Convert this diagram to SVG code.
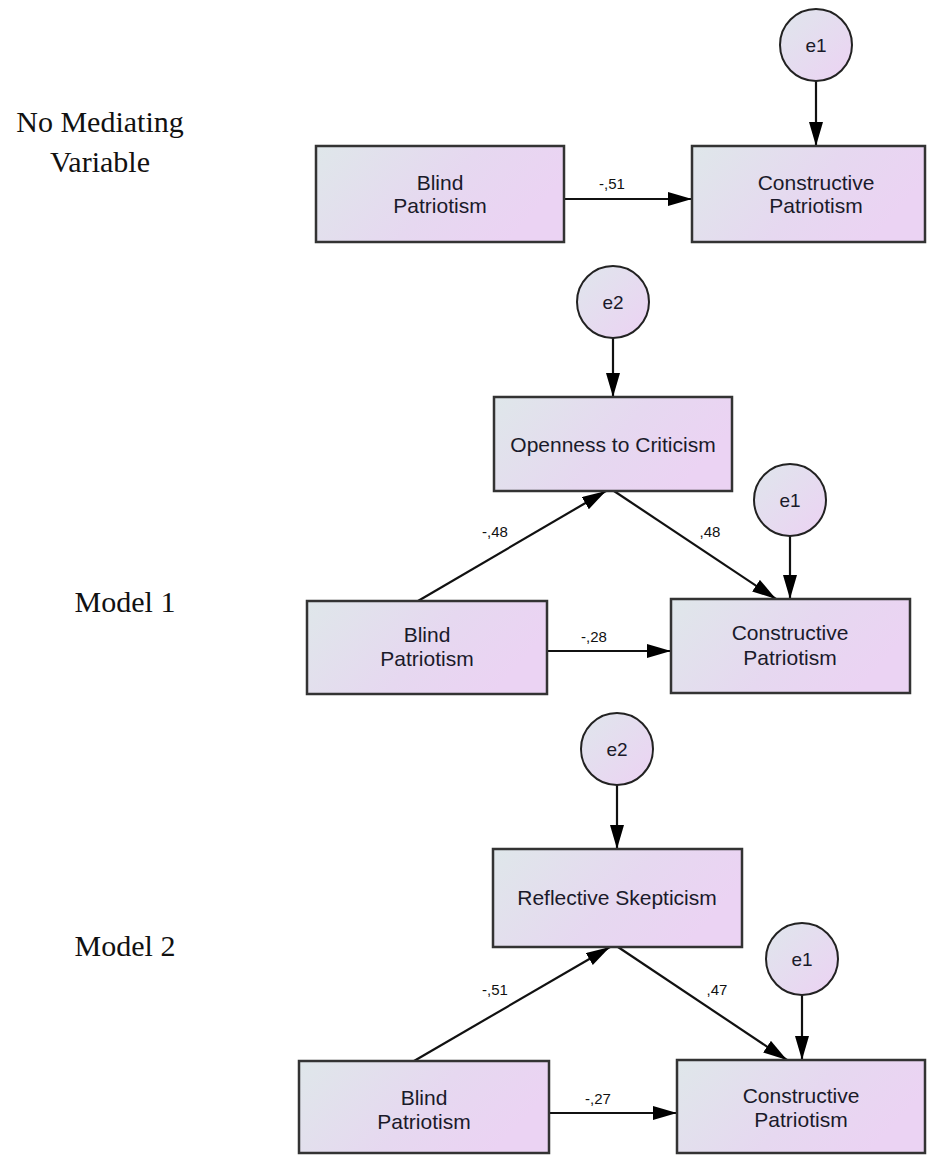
<svg xmlns="http://www.w3.org/2000/svg" width="927" height="1155" viewBox="0 0 927 1155">
<defs>
<linearGradient id="gBox" x1="0" y1="0" x2="1" y2="0.35">
<stop offset="0" stop-color="#dfe7ea"/>
<stop offset="0.6" stop-color="#e6d8f0"/>
<stop offset="1" stop-color="#ebd3f3"/>
</linearGradient>
<linearGradient id="gCirc" x1="0" y1="0" x2="1" y2="1">
<stop offset="0" stop-color="#dfe6ec"/>
<stop offset="1" stop-color="#ecd2f3"/>
</linearGradient>
<marker id="arr" markerUnits="userSpaceOnUse" markerWidth="26" markerHeight="16" refX="24" refY="7" orient="auto">
<path d="M0,0 L24,7 L0,14 z" fill="#000"/>
</marker>
</defs>
<style>
.box{fill:url(#gBox);stroke:#333;stroke-width:2.5}
.circ{fill:url(#gCirc);stroke:#222;stroke-width:2}
.t{font-family:"Liberation Sans",Arial,sans-serif;font-size:21px;fill:#1a1a2a;text-anchor:middle}
.e{font-family:"Liberation Sans",Arial,sans-serif;font-size:19px;fill:#1a1a2a;text-anchor:middle}
.lbl{font-family:"Liberation Sans",Arial,sans-serif;font-size:15px;fill:#111;text-anchor:middle}
.side{font-family:"Liberation Serif","Times New Roman",serif;font-size:30px;fill:#111;text-anchor:middle}
.c{stroke:#111;stroke-width:2.2;fill:none;marker-end:url(#arr)}
</style>

<g id="side-labels">
<text class="side" x="100" y="132">No Mediating</text>
<text class="side" x="100" y="172">Variable</text>
<text class="side" x="125" y="612">Model 1</text>
<text class="side" x="125" y="956">Model 2</text>
</g>

<g id="connectors">
<line class="c" x1="816" y1="81" x2="816" y2="146"/>
<line class="c" x1="564" y1="199" x2="692" y2="199"/>
<text class="lbl" x="612" y="189">-,51</text>

<line class="c" x1="613" y1="338" x2="613" y2="397"/>
<line class="c" x1="790" y1="536" x2="790" y2="599"/>
<line class="c" x1="547" y1="651" x2="671" y2="651"/>
<line class="c" x1="418" y1="601" x2="606" y2="491"/>
<line class="c" x1="614" y1="491" x2="776" y2="599"/>
<text class="lbl" x="594" y="642">-,28</text>
<text class="lbl" x="495" y="537">-,48</text>
<text class="lbl" x="710" y="537">,48</text>

<line class="c" x1="617" y1="785" x2="617" y2="849"/>
<line class="c" x1="802" y1="995" x2="802" y2="1060"/>
<line class="c" x1="549" y1="1113" x2="677" y2="1113"/>
<line class="c" x1="414" y1="1061" x2="610" y2="947"/>
<line class="c" x1="618" y1="947" x2="787" y2="1060"/>
<text class="lbl" x="598" y="1104">-,27</text>
<text class="lbl" x="495" y="995">-,51</text>
<text class="lbl" x="717" y="995">,47</text>
</g>

<g id="m0-e1">
<circle class="circ" cx="816" cy="45" r="36"/>
<text class="e" x="816" y="52">e1</text>
</g>
<g id="m0-blind">
<rect class="box" x="316" y="146" width="248" height="96"/>
<text class="t" x="440" y="190">Blind</text>
<text class="t" x="440" y="213">Patriotism</text>
</g>
<g id="m0-constructive">
<rect class="box" x="692" y="146" width="233" height="96"/>
<text class="t" x="816" y="190">Constructive</text>
<text class="t" x="816" y="213">Patriotism</text>
</g>

<g id="m1-e2">
<circle class="circ" cx="613" cy="302" r="36"/>
<text class="e" x="613" y="309">e2</text>
</g>
<g id="m1-openness">
<rect class="box" x="494" y="397" width="238" height="94"/>
<text class="t" x="613" y="452">Openness to Criticism</text>
</g>
<g id="m1-e1">
<circle class="circ" cx="790" cy="500" r="36"/>
<text class="e" x="790" y="507">e1</text>
</g>
<g id="m1-blind">
<rect class="box" x="307" y="601" width="240" height="93"/>
<text class="t" x="427" y="642">Blind</text>
<text class="t" x="427" y="666">Patriotism</text>
</g>
<g id="m1-constructive">
<rect class="box" x="671" y="599" width="239" height="94"/>
<text class="t" x="790" y="640">Constructive</text>
<text class="t" x="790" y="665">Patriotism</text>
</g>

<g id="m2-e2">
<circle class="circ" cx="617" cy="749" r="36"/>
<text class="e" x="617" y="756">e2</text>
</g>
<g id="m2-reflective">
<rect class="box" x="493" y="849" width="249" height="98"/>
<text class="t" x="617" y="905">Reflective Skepticism</text>
</g>
<g id="m2-e1">
<circle class="circ" cx="802" cy="959" r="36"/>
<text class="e" x="802" y="966">e1</text>
</g>
<g id="m2-blind">
<rect class="box" x="299" y="1061" width="250" height="92"/>
<text class="t" x="424" y="1105">Blind</text>
<text class="t" x="424" y="1129">Patriotism</text>
</g>
<g id="m2-constructive">
<rect class="box" x="677" y="1060" width="248" height="93"/>
<text class="t" x="801" y="1103">Constructive</text>
<text class="t" x="801" y="1127">Patriotism</text>
</g>
</svg>
